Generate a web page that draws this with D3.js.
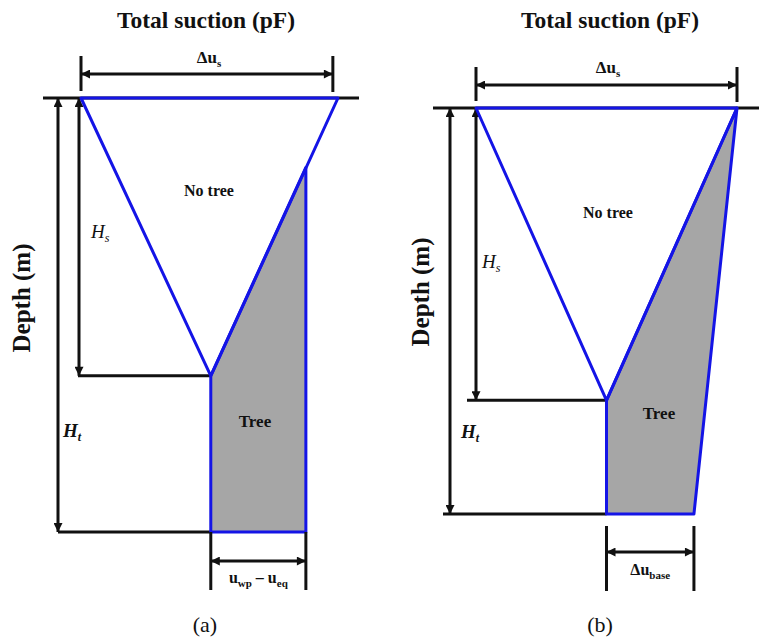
<!DOCTYPE html>
<html>
<head>
<meta charset="utf-8">
<script src="https://cdn.jsdelivr.net/npm/d3@7"></script>
<style>
    body { margin: 0; background: #fff; }
    text { font-family: "Liberation Serif", "Times New Roman", serif; fill: #111; }
</style>
</head>
<body>
<svg id="chart" width="759" height="638"></svg>
<script>
// profile points: [total suction (relative units), depth (fraction of Ht)]
var noTreeA = [[0, 0], [10, 0], [5.05, 0.64]];
var treeA = [[8.75, 0.16], [8.75, 1], [5.05, 1], [5.05, 0.64]];
var noTreeB = [[0, 0], [10, 0], [5.0, 0.72]];
var treeB = [[10, 0], [8.35, 1], [5.0, 1], [5.0, 0.72]];
var depthHs = [0.64, 0.72];
var surfaceWidth = [9.8, 10];
var panelLabels = ["(a)", "(b)"];

var BLUE = "#1414e6", GREY = "#a6a6a6", INK = "#111";

var svg = d3.select("#chart");

var defs = svg.append("defs");
defs.append("marker")
    .attr("id", "arr")
    .attr("viewBox", "0 0 10 10")
    .attr("refX", 10).attr("refY", 5)
    .attr("markerWidth", 10).attr("markerHeight", 9)
    .attr("markerUnits", "userSpaceOnUse")
    .attr("orient", "auto-start-reverse")
    .append("path")
    .attr("d", "M0,0L10,5L0,10z")
    .attr("fill", INK);

var panels = [
    {
        noTree: noTreeA, tree: treeA, hs: depthHs[0], dus: surfaceWidth[0], label: panelLabels[0],
        xr: [81, 338], yr: [98, 532],
        titleX: 206, groundX: [43, 359],
        dusY: [56, 91], dusArrow: 74, dusLabelX: 209, dusLabelY: 63,
        htX: 58, hsX: 79, htLineX: 58, hsLineX: 78,
        hsLab: [91, 238], htLab: [63, 437],
        depthLab: [30, 298],
        noTreeLab: [209, 196], treeLab: [255, 427],
        baseY: [532, 590], baseArrow: 561, baseLabelY: 583, baseKind: "a",
        labX: 205
    },
    {
        noTree: noTreeB, tree: treeB, hs: depthHs[1], dus: surfaceWidth[1], label: panelLabels[1],
        xr: [476, 737], yr: [108, 514],
        titleX: 610, groundX: [433, 759],
        dusY: [67, 101], dusArrow: 85, dusLabelX: 608, dusLabelY: 73,
        htX: 450, hsX: 476, htLineX: 443, hsLineX: 467,
        hsLab: [482, 268], htLab: [461, 438],
        depthLab: [429, 292],
        noTreeLab: [608, 218], treeLab: [659, 419],
        baseY: [526, 591], baseArrow: 552, baseLabelY: 575, baseKind: "b",
        labX: 600
    }
];

panels.forEach(drawPanel);

function line(g, x1, y1, x2, y2, arrows) {
    var l = g.append("line")
        .attr("x1", x1).attr("y1", y1).attr("x2", x2).attr("y2", y2)
        .attr("stroke", INK).attr("stroke-width", 3);
    if (arrows) l.attr("marker-start", "url(#arr)").attr("marker-end", "url(#arr)");
    return l;
}

function drawPanel(p) {
    var g = svg.append("g");
    var x = d3.scaleLinear().domain([0, 10]).range(p.xr);
    var y = d3.scaleLinear().domain([0, 1]).range(p.yr);
    var path = d3.line().x(function (d) { return x(d[0]); }).y(function (d) { return y(d[1]); });

    var vertex = p.noTree[2];
    var baseL = p.tree[2][0], baseR = p.tree[1][0];

    // title
    g.append("text").attr("x", p.titleX).attr("y", 28)
        .attr("text-anchor", "middle").attr("font-size", 23.5).attr("font-weight", "bold")
        .text("Total suction (pF)");

    // ground surface
    line(g, p.groundX[0], y(0), p.groundX[1], y(0));

    // suction range at surface
    line(g, x(0), p.dusY[0], x(0), p.dusY[1]);
    line(g, x(p.dus), p.dusY[0], x(p.dus), p.dusY[1] + 1);
    line(g, x(0), p.dusArrow, x(p.dus), p.dusArrow, true);
    var t = g.append("text").attr("x", p.dusLabelX).attr("y", p.dusLabelY)
        .attr("text-anchor", "middle").attr("font-size", 17).attr("font-weight", "bold");
    t.append("tspan").text("\u0394u");
    t.append("tspan").attr("font-size", 11).attr("dy", 4).text("s");

    // depth arrows and reference lines
    line(g, p.htX, y(0), p.htX, y(1), true);
    line(g, p.hsX, y(0), p.hsX, y(p.hs), true);
    line(g, p.htLineX, y(1), x(baseL), y(1));
    line(g, p.hsLineX, y(p.hs), x(vertex[0]), y(p.hs));

    [[p.hsLab, "s"], [p.htLab, "t"]].forEach(function (h) {
        var tt = g.append("text").attr("x", h[0][0]).attr("y", h[0][1])
            .attr("font-size", 19).attr("font-style", "italic")
            .attr("font-weight", h[1] === "t" ? "bold" : "normal");
        tt.append("tspan").text("H");
        tt.append("tspan").attr("font-size", 12).attr("dy", 4).text(h[1]);
    });

    // profiles
    g.append("path").attr("d", path(p.tree) + "Z")
        .attr("fill", GREY).attr("stroke", BLUE).attr("stroke-width", 3)
        .attr("stroke-linejoin", "round");
    g.append("path").attr("d", path(p.noTree) + "Z")
        .attr("fill", "none").attr("stroke", BLUE).attr("stroke-width", 3)
        .attr("stroke-linejoin", "round");

    g.append("text").attr("x", p.noTreeLab[0]).attr("y", p.noTreeLab[1])
        .attr("text-anchor", "middle").attr("font-size", 16).attr("font-weight", "bold")
        .text("No tree");
    g.append("text").attr("x", p.treeLab[0]).attr("y", p.treeLab[1])
        .attr("text-anchor", "middle").attr("font-size", 17).attr("font-weight", "bold")
        .text("Tree");

    // y title
    g.append("text")
        .attr("transform", "translate(" + p.depthLab[0] + "," + p.depthLab[1] + ") rotate(-90)")
        .attr("text-anchor", "middle").attr("font-size", 25).attr("font-weight", "bold")
        .text("Depth (m)");

    // base suction range
    line(g, x(baseL), p.baseY[0], x(baseL), p.baseY[1]);
    line(g, x(baseR), p.baseY[0], x(baseR), p.baseY[1]);
    line(g, x(baseL), p.baseArrow, x(baseR), p.baseArrow, true);
    var bt = g.append("text").attr("x", (x(baseL) + x(baseR)) / 2).attr("y", p.baseLabelY)
        .attr("text-anchor", "middle").attr("font-size", 16).attr("font-weight", "bold");
    if (p.baseKind === "a") {
        bt.append("tspan").text("u");
        bt.append("tspan").attr("font-size", 11).attr("dy", 4).text("wp");
        bt.append("tspan").attr("dy", -4).text(" \u2013 u");
        bt.append("tspan").attr("font-size", 11).attr("dy", 4).text("eq");
    } else {
        bt.append("tspan").text("\u0394u");
        bt.append("tspan").attr("font-size", 11).attr("dy", 4).text("base");
    }

    // panel label
    g.append("text").attr("x", p.labX).attr("y", 632)
        .attr("text-anchor", "middle").attr("font-size", 22)
        .text(p.label);
}
</script>
</body>
</html>
